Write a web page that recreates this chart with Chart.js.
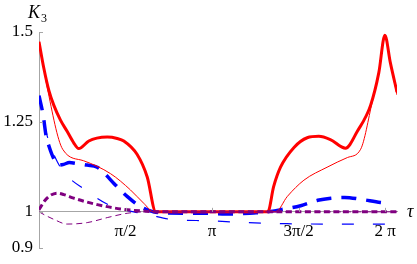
<!DOCTYPE html>
<html>
<head>
<meta charset="utf-8">
<script src="https://cdn.jsdelivr.net/npm/chart.js@4/dist/chart.umd.min.js"></script>
<style>
  html, body { margin: 0; padding: 0; background: #fff; }
  #wrap { width: 417px; height: 264px; }
</style>
</head>
<body>
<div id="wrap"><canvas id="grafica" width="417" height="264"></canvas></div>
<script>
// tau values and K3 values
const redThickTau = [0, 0.087, 0.18, 0.27, 0.39, 0.51, 0.63, 0.72, 0.905, 1.05, 1.24, 1.42, 1.54, 1.78, 1.965, 2.12, 4.155, 4.26, 4.385, 4.63, 4.87, 5.08, 5.29, 5.566, 5.78, 6.02, 6.17, 6.28, 6.38, 6.5];
const redThickK = [1.473, 1.40, 1.337, 1.296, 1.255, 1.224, 1.192, 1.176, 1.197, 1.205, 1.208, 1.204, 1.197, 1.16, 1.097, 1.0, 1.0, 1.07, 1.124, 1.179, 1.206, 1.21, 1.201, 1.177, 1.224, 1.296, 1.387, 1.491, 1.414, 1.333];

const redThinTau = [0, 0.087, 0.149, 0.43, 0.81, 1.3, 1.66, 1.9, 2.085, 4.295, 4.51, 4.81, 5.23, 5.6, 5.84, 6.05, 6.17, 6.28, 6.38, 6.5];
const redThinK = [1.473, 1.40, 1.346, 1.174, 1.142, 1.106, 1.061, 1.024, 1.0, 1.0, 1.043, 1.088, 1.124, 1.151, 1.174, 1.305, 1.387, 1.491, 1.414, 1.325];

const blueThickTau = [0, 0.075, 0.13, 0.18, 0.27, 0.35, 0.45, 0.55, 0.7, 0.875, 1.057, 1.2, 1.36, 1.6, 1.84, 2.08, 2.3, 3.0, 3.5, 3.9, 4.15, 4.39, 4.75, 5.06, 5.3, 5.55, 5.84, 6.2, 6.28];
const blueThickK = [1.323, 1.269, 1.21, 1.183, 1.147, 1.13, 1.132, 1.137, 1.134, 1.13, 1.124, 1.105, 1.079, 1.043, 1.015, 1.0, 0.997, 0.996, 0.994, 0.997, 1.0, 1.006, 1.017, 1.032, 1.038, 1.04, 1.035, 1.026, 1.025];

const blueThinTau = [0, 0.12, 0.22, 0.33, 0.45, 0.84, 1.3, 1.72, 2.02, 2.35, 3.1, 3.8, 4.5, 5.5, 6.3];
const blueThinK = [1.323, 1.228, 1.178, 1.14, 1.11, 1.061, 1.017, 1.0, 0.991, 0.98, 0.975, 0.97, 0.967, 0.966, 0.966];

const purpleThickTau = [0, 0.1, 0.2, 0.33, 0.45, 0.63, 0.85, 1.06, 1.48, 1.9, 2.2, 6.5];
const purpleThickK = [1.006, 1.03, 1.045, 1.052, 1.048, 1.038, 1.028, 1.02, 1.008, 1.002, 1.0, 1.0];

const purpleThinTau = [0, 0.12, 0.27, 0.51, 0.875, 1.24, 1.6, 1.9, 6.5];
const purpleThinK = [1.0, 0.99, 0.979, 0.966, 0.970, 0.984, 0.996, 1.0, 1.0];

const xTickValues = [Math.PI / 2, Math.PI, 3 * Math.PI / 2, 2 * Math.PI];
const xTickLabels = ["π/2", "π", "3π/2", "2 π"];
const yTickValues = [0.9, 1, 1.25, 1.5];
const yTickLabels = ["0.9", "1", "1.25", "1.5"];

const gris = "#a6a6a6";
const serif = "'Liberation Serif', 'DejaVu Serif', serif";
const fuente = { family: serif, size: 17 };

function puntos(tau, k) {
  return tau.map((t, i) => ({ x: t, y: k[i] }));
}

function serie(tau, k, color, ancho, guiones) {
  return {
    data: puntos(tau, k),
    borderColor: color,
    borderWidth: ancho,
    borderDash: guiones,
    pointRadius: 0,
    fill: false,
    cubicInterpolationMode: "monotone"
  };
}

// marcas de los ejes y etiquetas K3 / tau
const extras = {
  id: "extras",
  afterDraw(chart) {
    const ctx = chart.ctx;
    const sx = chart.scales.x, sy = chart.scales.y;
    const y1 = sy.getPixelForValue(1);
    ctx.save();
    ctx.strokeStyle = gris;
    ctx.lineWidth = 1;
    ctx.beginPath();
    xTickValues.forEach(v => {
      const px = Math.round(sx.getPixelForValue(v)) + 0.5;
      ctx.moveTo(px, y1);
      ctx.lineTo(px, y1 - 4);
    });
    yTickValues.forEach(v => {
      const py = Math.round(sy.getPixelForValue(v)) + 0.5;
      ctx.moveTo(sx.left, py);
      ctx.lineTo(sx.left + 4, py);
    });
    ctx.stroke();

    ctx.fillStyle = "#000";
    ctx.textBaseline = "alphabetic";
    ctx.font = "italic 18px " + serif;
    ctx.fillText("K", 28, 18);
    ctx.font = "12px " + serif;
    ctx.fillText("3", 41, 22);
    ctx.font = "italic 18px " + serif;
    ctx.fillText("τ", 407, y1 + 5);
    ctx.restore();
  }
};

const ctx = document.getElementById("grafica").getContext("2d");
new Chart(ctx, {
  type: "line",
  data: {
    datasets: [
      serie(purpleThickTau, purpleThickK, "rgb(128,0,128)", 3, [6, 3.5]),
      serie(purpleThinTau, purpleThinK, "rgb(128,0,128)", 1, [6, 4]),
      serie(redThickTau, redThickK, "rgb(255,0,0)", 3, []),
      serie(redThinTau, redThinK, "rgb(255,0,0)", 1, []),
      serie(blueThickTau, blueThickK, "rgb(0,0,255)", 3.5, [15, 10]),
      serie(blueThinTau, blueThinK, "rgb(0,0,255)", 1.2, [12, 19])
    ]
  },
  options: {
    responsive: false,
    animation: false,
    devicePixelRatio: 1,
    layout: { padding: { left: 0, right: 20, top: 32, bottom: 12 } },
    plugins: { legend: { display: false }, tooltip: { enabled: false } },
    scales: {
      x: {
        type: "linear",
        min: 0,
        max: 6.5,
        position: { y: 1 },
        afterBuildTicks: s => { s.ticks = xTickValues.map(v => ({ value: v })); },
        ticks: {
          callback: (v, i) => xTickLabels[i],
          font: fuente,
          color: "#000",
          padding: 9,
          maxRotation: 0,
          autoSkip: false
        },
        grid: { display: false, drawTicks: false },
        border: { color: gris, width: 1 }
      },
      y: {
        min: 0.9,
        max: 1.5,
        afterBuildTicks: s => { s.ticks = yTickValues.map(v => ({ value: v })); },
        afterFit: s => { s.width = 39; },
        ticks: {
          callback: (v, i) => yTickLabels[i],
          font: fuente,
          color: "#000",
          padding: 6
        },
        grid: { display: false, drawTicks: false },
        border: { color: gris, width: 1 }
      }
    }
  },
  plugins: [extras]
});
</script>
</body>
</html>
